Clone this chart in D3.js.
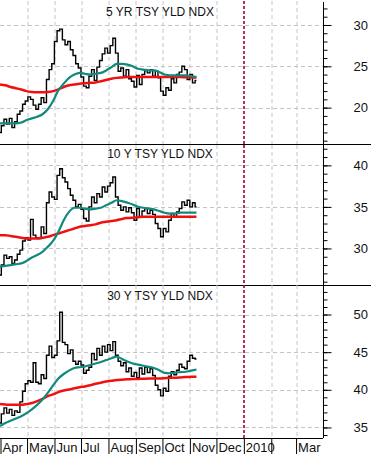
<!DOCTYPE html>
<html>
<head>
<meta charset="utf-8">
<script src="https://cdn.jsdelivr.net/npm/d3@7"></script>
<style>
  body { margin: 0; background: #fff; }
  svg { display: block; font-family: "Liberation Sans", Arial, sans-serif; }
</style>
</head>
<body>
<div id="chart"></div>
<script>
// month labels along the bottom (Feb is hidden under "2010")
const monthLabels = ["Apr", "May", "Jun", "Jul", "Aug", "Sep", "Oct", "Nov", "Dec", "2010", "", "Mar"];
const panelTitles = ["5 YR TSY YLD NDX", "10 Y TSY YLD NDX", "30 Y TSY YLD NDX"];

// daily index closes, one value every 3 calendar days from Apr 1 2009
const yld5 = [
  17.0, 17.8, 18.6, 18.0, 18.7, 17.6, 18.3, 19.2, 19.6, 20.4,
  20.8, 21.3, 21.0, 20.3, 19.8, 20.4, 21.2, 20.6, 23.4, 24.6,
  25.3, 28.0, 29.3, 29.5, 28.2, 27.6, 28.0, 27.0, 26.3, 25.3,
  24.8, 23.7, 22.6, 22.4, 23.8, 24.6, 23.3, 24.9, 25.7, 26.5,
  27.2, 26.6, 27.5, 28.4, 26.6, 24.4, 24.8, 23.8, 24.6, 23.5,
  23.2, 22.5, 23.9, 22.8, 24.0, 24.5, 24.2, 24.6, 23.8, 24.4,
  23.6, 22.0, 21.5, 22.4, 22.1, 23.5, 23.0, 24.0, 24.3, 25.0,
  24.6, 23.4, 24.0, 23.0, 23.3
];
const yld10 = [
  26.8, 28.0, 29.2, 28.8, 29.0, 28.2, 28.6, 29.3, 29.8, 30.9,
  31.3, 31.0, 33.5, 31.6, 31.3, 31.2, 32.6, 31.8, 35.5, 36.8,
  36.2, 35.9, 38.8, 39.6, 38.5, 38.0, 37.2, 36.4, 35.8, 35.0,
  35.3, 34.7, 33.6, 33.3, 35.0, 36.2, 35.5, 36.6, 36.2, 37.4,
  36.8, 37.5, 37.9, 38.6, 36.2, 35.2, 34.6, 35.0, 34.4, 34.9,
  34.3, 33.4, 34.8, 33.8, 34.5, 34.8, 34.2, 34.6, 34.1, 33.0,
  32.4, 31.4, 32.4, 32.0, 33.4, 34.2, 33.8, 34.4, 34.8, 35.6,
  35.2, 35.8, 35.0, 35.5, 35.0
];
const yld30 = [
  35.6, 36.8, 37.6, 36.9, 37.4, 36.6, 37.2, 37.0, 38.4, 39.8,
  40.8, 41.2, 41.0, 43.6, 41.0, 40.8, 42.0, 41.5, 44.6, 45.8,
  44.3, 44.6, 46.5, 50.3, 46.3, 46.0, 44.8, 45.3, 43.8, 43.4,
  43.8, 43.3, 42.2, 42.6, 43.0, 44.8, 44.0, 45.5, 44.6, 45.8,
  45.0, 46.0, 45.2, 46.4, 44.6, 43.8, 43.2, 43.6, 42.4, 42.9,
  41.8, 42.3, 41.6, 42.9, 42.1, 43.0, 42.3, 42.8, 41.9, 40.6,
  40.0, 39.2, 40.2, 39.8, 41.8, 42.4, 42.0, 42.6, 43.4, 43.0,
  42.8, 43.8, 44.6, 44.2, 44.1
];

// moving averages, one value every 6 calendar days from Apr 1 2009
const ma50_5 = [
  18.1, 18.1, 18.1, 18.1, 18.2, 18.5, 18.7, 18.9, 19.2, 19.8,
  20.8, 22.1, 22.9, 23.6, 24.0, 24.2, 24.1, 24.0, 24.1, 24.2,
  24.5, 24.9, 25.3, 25.3, 25.2, 25.0, 24.7, 24.6, 24.5, 24.5,
  24.3, 24.0, 23.9, 23.9, 23.9, 23.9, 23.8, 23.7
];
const ma200_5 = [
  22.8, 22.7, 22.5, 22.35, 22.2, 22.0, 21.9, 21.85, 21.85, 21.9,
  22.0, 22.2, 22.5, 22.7, 22.8, 22.9, 22.95, 23.0, 23.05, 23.2,
  23.35, 23.5, 23.6, 23.65, 23.7, 23.7, 23.7, 23.7, 23.7, 23.7,
  23.7, 23.7, 23.7, 23.7, 23.7, 23.68, 23.66, 23.65
];
const ma50_10 = [
  27.8, 27.9, 28.0, 28.1, 28.2, 28.5, 28.9, 29.2, 29.6, 30.2,
  30.9, 32.0, 33.4, 34.4, 34.9, 34.9, 34.8, 34.7, 34.8, 34.9,
  35.2, 35.5, 35.8, 35.7, 35.5, 35.3, 35.0, 34.9, 34.8, 34.7,
  34.5, 34.3, 34.2, 34.2, 34.3, 34.3, 34.3, 34.3
];
const ma200_10 = [
  31.6, 31.6, 31.5, 31.4, 31.3, 31.2, 31.2, 31.2, 31.3, 31.4,
  31.6, 31.8, 32.0, 32.2, 32.4, 32.6, 32.7, 32.8, 32.9, 33.1,
  33.2, 33.3, 33.4, 33.55, 33.65, 33.7, 33.75, 33.8, 33.8, 33.8,
  33.8, 33.8, 33.8, 33.8, 33.8, 33.8, 33.8, 33.8
];
const ma50_30 = [
  35.2, 35.6, 35.9, 36.2, 36.5, 36.9, 37.4, 38.0, 38.7, 39.6,
  40.6, 41.5, 42.1, 42.55, 42.9, 43.0, 43.1, 43.3, 43.5, 43.7,
  43.95, 44.2, 44.4, 44.1, 43.75, 43.5, 43.35, 43.2, 43.05, 42.9,
  42.6, 42.25, 42.2, 42.3, 42.35, 42.4, 42.55, 42.7
];
const ma200_30 = [
  38.1, 38.05, 38.0, 38.0, 38.0, 38.1, 38.25, 38.5, 38.8, 39.15,
  39.4, 39.7, 39.9, 40.05, 40.2, 40.35, 40.45, 40.6, 40.8, 40.95,
  41.1, 41.2, 41.3, 41.35, 41.4, 41.42, 41.45, 41.47, 41.5, 41.5,
  41.5, 41.55, 41.6, 41.6, 41.65, 41.7, 41.72, 41.75
];

// labelled ticks on the right axis
const ticks5 = [20, 25, 30];
const ticks10 = [30, 35, 40];
const ticks30 = [35, 40, 45, 50];

const width = 371;
const height = 454;
const plotRight = 323;
const startDate = new Date(2009, 3, 1);
const endDate = new Date(2010, 3, 1);

const xScale = d3.scaleTime().domain([startDate, endDate]).range([0, plotRight]);

const panels = [
  { title: panelTitles[0], price: yld5, ma50: ma50_5, ma200: ma200_5, ticks: ticks5, domain: [15.6, 32.9], top: 1, bottom: 144, titleY: 16 },
  { title: panelTitles[1], price: yld10, ma50: ma50_10, ma200: ma200_10, ticks: ticks10, domain: [25.6, 42.45], top: 145, bottom: 285, titleY: 158 },
  { title: panelTitles[2], price: yld30, ma50: ma50_30, ma200: ma200_30, ticks: ticks30, domain: [33.6, 53.92], top: 285, bottom: 438, titleY: 300 }
];

const svg = d3.select("#chart")
  .append("svg")
  .attr("width", width)
  .attr("height", height);

const monthStarts = d3.timeMonth.range(startDate, endDate);
const gridColor = "#c4c4c4";

panels.forEach(p => {
  const yScale = d3.scaleLinear().domain(p.domain).range([p.bottom, p.top]);
  const g = svg.append("g");

  // horizontal grid
  p.ticks.forEach(t => {
    g.append("line")
      .attr("x1", 0)
      .attr("x2", plotRight)
      .attr("y1", Math.round(yScale(t)) + 0.5)
      .attr("y2", Math.round(yScale(t)) + 0.5)
      .style("stroke", gridColor)
      .style("stroke-dasharray", "4,3");
  });

  // vertical grid on month starts, the year change in dark red
  monthStarts.slice(1).forEach(d => {
    const isJan = d.getMonth() === 0;
    g.append("line")
      .attr("x1", Math.round(xScale(d)) + 1)
      .attr("x2", Math.round(xScale(d)) + 1)
      .attr("y1", p.top)
      .attr("y2", p.bottom)
      .style("stroke", isJan ? "#a8002c" : gridColor)
      .style("stroke-width", isJan ? 1.6 : 1)
      .style("stroke-dasharray", isJan ? "3,2" : "4,3");
  });

  g.append("text")
    .attr("x", 160)
    .attr("y", p.titleY)
    .attr("text-anchor", "middle")
    .style("font-size", "12px")
    .style("fill", "#111")
    .text(p.title);

  const priceLine = d3.line()
    .x((d, i) => xScale(d3.timeDay.offset(startDate, i * 3)))
    .y(d => yScale(d))
    .curve(d3.curveStep);

  const maLine = d3.line()
    .x((d, i) => xScale(d3.timeDay.offset(startDate, i * 6)))
    .y(d => yScale(d))
    .curve(d3.curveMonotoneX);

  g.append("path")
    .datum(p.price)
    .attr("d", priceLine)
    .attr("fill", "none")
    .attr("stroke", "#000")
    .attr("stroke-width", 1.4);

  g.append("path")
    .datum(p.ma200)
    .attr("d", maLine)
    .attr("fill", "none")
    .attr("stroke", "#f01010")
    .attr("stroke-width", 2.5);

  g.append("path")
    .datum(p.ma50)
    .attr("d", maLine)
    .attr("fill", "none")
    .attr("stroke", "#108a7c")
    .attr("stroke-width", 2.2);

  // right axis: minor ticks every unit, labelled majors
  const minor = d3.range(Math.ceil(p.domain[0]), Math.floor(p.domain[1]) + 1);
  const minorAxis = d3.axisRight(yScale).tickValues(minor).tickSize(4).tickFormat("");
  const majorAxis = d3.axisRight(yScale).tickValues(p.ticks).tickSize(8).tickPadding(22).tickFormat(d3.format("d"));

  [minorAxis, majorAxis].forEach(ax => {
    const a = g.append("g")
      .attr("transform", `translate(${plotRight + 0.5},0)`)
      .call(ax);
    a.select(".domain").remove();
    a.selectAll("line").style("stroke", "#000");
    a.selectAll("text")
      .style("font-size", "13px")
      .style("font-family", "'Liberation Sans', Arial, sans-serif")
      .style("fill", "#111");
  });

  // panel divider
  svg.append("line")
    .attr("x1", 0)
    .attr("x2", p.bottom === 438 ? plotRight : width)
    .attr("y1", p.bottom + 0.5)
    .attr("y2", p.bottom + 0.5)
    .style("stroke", "#000");
});

// right axis line
svg.append("line")
  .attr("x1", plotRight + 0.5)
  .attr("x2", plotRight + 0.5)
  .attr("y1", 2)
  .attr("y2", 438)
  .style("stroke", "#000");

// bottom month axis: separators and labels
const xAxis = d3.axisBottom(xScale)
  .tickValues(monthStarts)
  .tickSize(height - 438)
  .tickFormat((d, i) => monthLabels[i]);

const xa = svg.append("g")
  .attr("transform", "translate(0,438.5)")
  .call(xAxis);
xa.select(".domain").remove();
xa.selectAll(".tick line")
  .attr("transform", "translate(0.5,0)")
  .style("stroke", "#000");
xa.selectAll("text")
  .attr("y", 13)
  .attr("x", 2)
  .attr("dy", null)
  .attr("text-anchor", "start")
  .style("font-size", "13px")
  .style("font-family", "'Liberation Sans', Arial, sans-serif")
  .style("fill", "#111");
</script>
</body>
</html>
